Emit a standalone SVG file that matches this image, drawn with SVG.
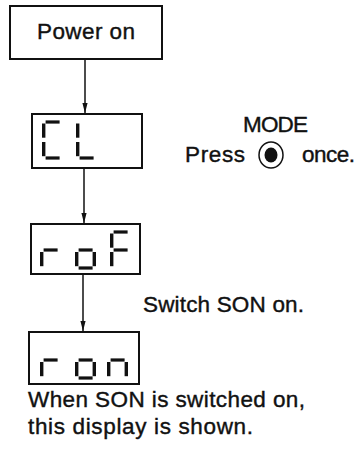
<svg xmlns="http://www.w3.org/2000/svg" xmlns:xlink="http://www.w3.org/1999/xlink" width="358" height="450" viewBox="0 0 358 450">
<style>
.box{fill:#fff;stroke:#111;stroke-width:2}
.lbl{font-family:"Liberation Sans",Arial,sans-serif;font-size:22.5px;fill:#111;stroke:#111;stroke-width:0.4}
.conn{stroke:#111;stroke-width:1.5;fill:none}
.seg{fill:#111}
</style>
<defs>
<marker id="ah" markerUnits="userSpaceOnUse" markerWidth="11" markerHeight="6" refX="10" refY="3" orient="auto">
<path d="M0,0.4 L10,3 L0,5.6 z" fill="#111"/>
</marker>
<rect id="h" class="seg" width="14" height="3.2"/>
<rect id="v" class="seg" width="3.4" height="14.2"/>
</defs>
<rect width="358" height="450" fill="#fff"/>
<g id="connectors">
<line class="conn" x1="85" y1="59" x2="85" y2="113" marker-end="url(#ah)"/>
<line class="conn" x1="84" y1="168" x2="84" y2="223" marker-end="url(#ah)"/>
<line class="conn" x1="83" y1="274" x2="83" y2="331" marker-end="url(#ah)"/>
</g>
<g id="power-on">
<rect class="box" x="10" y="6" width="152" height="53"/>
<text class="lbl" x="37" y="39" font-size="23" textLength="98" lengthAdjust="spacing">Power on</text>
</g>
<g id="display-CL">
<rect class="box" x="32" y="114" width="110" height="54"/>
<use xlink:href="#h" x="45.6" y="120.4"/>
<use xlink:href="#v" x="42" y="123.5"/>
<use xlink:href="#v" x="42" y="142"/>
<use xlink:href="#h" x="45.6" y="156.4"/>
<use xlink:href="#v" x="76" y="123.5"/>
<use xlink:href="#v" x="76" y="142"/>
<use xlink:href="#h" x="79.6" y="156.4"/>
</g>
<g id="display-roF">
<rect class="box" x="31" y="224" width="109" height="50"/>
<use xlink:href="#h" x="43.6" y="248.4"/>
<use xlink:href="#v" x="40" y="252"/>
<use xlink:href="#h" x="78.6" y="248.4"/>
<use xlink:href="#v" x="75" y="252"/>
<use xlink:href="#v" x="92.6" y="252"/>
<use xlink:href="#h" x="78.6" y="266.4"/>
<use xlink:href="#h" x="113.6" y="230.4"/>
<use xlink:href="#v" x="110" y="233.5"/>
<use xlink:href="#v" x="110" y="252"/>
<use xlink:href="#h" x="113.6" y="248.4"/>
</g>
<g id="display-ron">
<rect class="box" x="29" y="332" width="110" height="52"/>
<use xlink:href="#h" x="43.6" y="358.4"/>
<use xlink:href="#v" x="40" y="362"/>
<use xlink:href="#h" x="78.6" y="358.4"/>
<use xlink:href="#v" x="75" y="362"/>
<use xlink:href="#v" x="92.6" y="362"/>
<use xlink:href="#h" x="78.6" y="376.4"/>
<use xlink:href="#h" x="110.6" y="358.4"/>
<use xlink:href="#v" x="107" y="362"/>
<use xlink:href="#v" x="124.6" y="362"/>
</g>
<g id="mode-note">
<text class="lbl" x="243" y="132" textLength="65" lengthAdjust="spacing">MODE</text>
<text class="lbl" x="185" y="162" textLength="60" lengthAdjust="spacing">Press</text>
<ellipse cx="271" cy="155" rx="12" ry="13" fill="none" stroke="#111" stroke-width="1.5"/>
<ellipse cx="271" cy="155" rx="6.5" ry="7.5" fill="#111"/>
<text class="lbl" x="302" y="162" textLength="53" lengthAdjust="spacing">once.</text>
</g>
<g id="son-note">
<text class="lbl" x="143" y="312" textLength="161" lengthAdjust="spacing">Switch SON on.</text>
</g>
<g id="shown-note">
<text class="lbl" x="28" y="407" textLength="277" lengthAdjust="spacing">When SON is switched on,</text>
<text class="lbl" x="28" y="434" textLength="225" lengthAdjust="spacing">this display is shown.</text>
</g>
</svg>
